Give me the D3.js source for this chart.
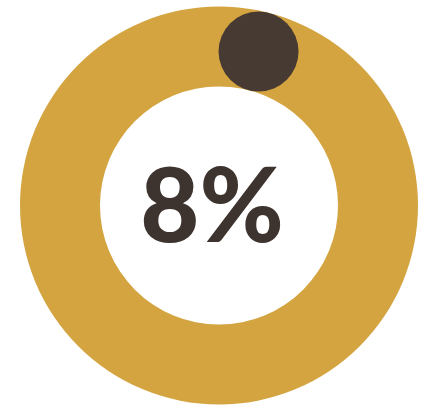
<!DOCTYPE html>
<html>
<head>
<meta charset="utf-8">
<script src="https://cdn.jsdelivr.net/npm/d3@7"></script>
<style>
html,body{margin:0;padding:0;background:#fff;}
svg{display:block;}
</style>
</head>
<body>
<svg id="chart" width="425" height="407"></svg>
<script>
const categories = ["Share", "Rest"];
const values = [8, 92];
const label = "8%";

const W = 425, H = 407;
const cx = 219, cy = 205.5;
const outerR = 199, innerR = 119;

const svg = d3.select("#chart");
const g = svg.append("g").attr("transform", `translate(${cx},${cy})`);

const pie = d3.pie().sort(null).value(d => d);
const arcs = pie(values);
const arc = d3.arc().innerRadius(innerR).outerRadius(outerR);

// full gold ring
g.append("path")
  .attr("d", d3.arc().innerRadius(innerR).outerRadius(outerR).startAngle(0).endAngle(2 * Math.PI)())
  .attr("fill", "#D4A441");

// marker dot at the centroid of the 8% slice
const c = arc.centroid(arcs[0]);
g.append("circle")
  .attr("cx", c[0]).attr("cy", c[1])
  .attr("r", (outerR - innerR) / 2)
  .attr("fill", "#463a33");

g.append("text")
  .attr("x", -7).attr("y", 36)
  .attr("text-anchor", "middle")
  .attr("font-family", "Lato, 'Open Sans', sans-serif")
  .attr("font-weight", 900)
  .attr("font-size", 102)
  .attr("fill", "#3e342f")
  .text(label);
</script>
</body>
</html>
